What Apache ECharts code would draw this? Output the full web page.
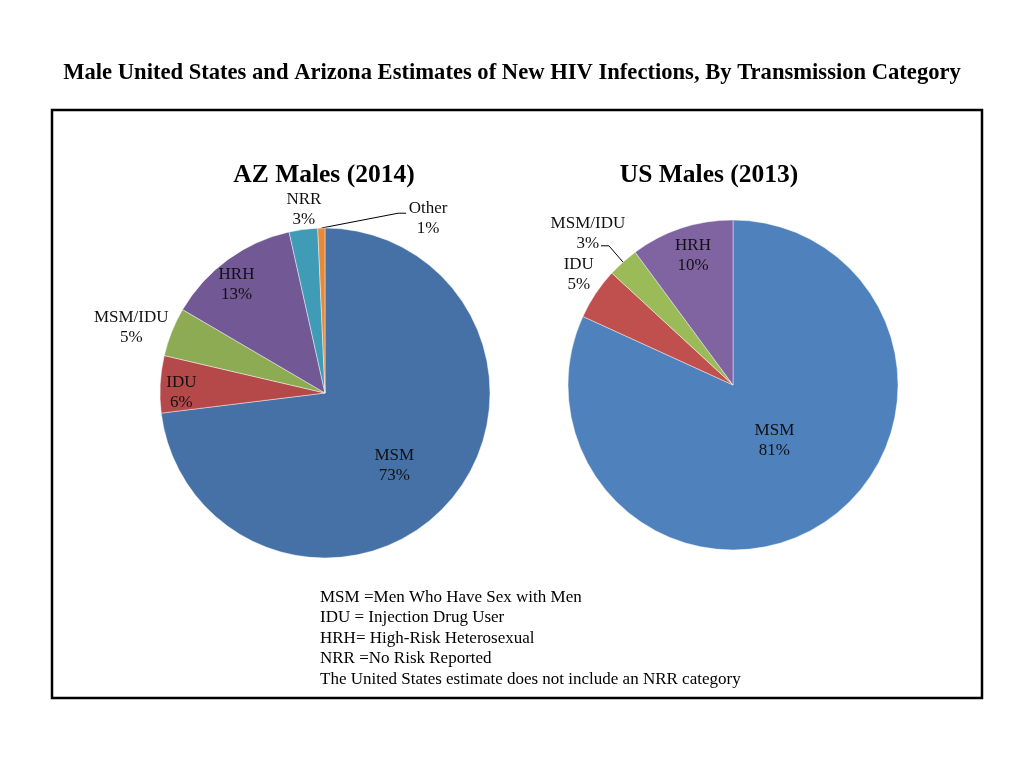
<!DOCTYPE html>
<html><head><meta charset="utf-8">
<script src="https://cdn.jsdelivr.net/npm/echarts@6/dist/echarts.min.js"></script>
<style>html,body{margin:0;padding:0;background:#fff}#c{width:1024px;height:768px}</style>
</head><body><div id="c"></div>
<script>
// ---- data ----
const azCategories = ['MSM', 'IDU', 'MSM/IDU', 'HRH', 'NRR', 'Other'];
const azValues = [73.2, 5.6, 4.8, 13.1, 2.8, 0.7];
const usCategories = ['MSM', 'IDU', 'MSM/IDU', 'HRH'];
const usValues = [81, 5, 3, 10];
const chartTitle = 'Male United States and Arizona Estimates of New HIV Infections, By Transmission Category';
const azTitle = 'AZ Males (2014)';
const usTitle = 'US Males (2013)';
const noteLines = [
  'MSM =Men Who Have Sex with Men',
  'IDU = Injection Drug User',
  'HRH= High-Risk Heterosexual',
  'NRR =No Risk Reported',
  'The United States estimate does not include an NRR category'
];

// ---- styles / layout ----
const azColors = ['#4571A7', '#B5494A', '#8DAB53', '#725894', '#409CB6', '#E5893C'];
const usColors = ['#4F81BD', '#C0504D', '#9BBB59', '#8064A2'];
const azGeo = {cx: 325, cy: 393, r: 165};
const usGeo = {cx: 733, cy: 385, r: 165};
// [radius fraction, angle shift (deg), leader attach dx, dy relative to label centre, elbow side]
const azLabelLayout = [[0.61, 5], [0.87, -3], [1.24, -3], [0.85, -3], [1.12, 1], [1.23, 31.8, -22, -5, -1]];
const usLabelLayout = [[0.42, -4], [1.15, 2], [1.27, -2, 13, 12, 1], [0.82, 1]];
const serif = '"Liberation Serif", "Times New Roman", serif';

function makeLayout(values, geo, lay) {
  const total = values.reduce((a, b) => a + b, 0);
  const starts = [];
  let acc = 0;
  values.forEach(v => { starts.push(acc); acc += v; });
  return function (params) {
    const i = params.dataIndex;
    const mid = (starts[i] + values[i] / 2) / total * 360;
    const L = lay[i];
    const a = (mid + L[1]) * Math.PI / 180;
    const x = geo.cx + L[0] * geo.r * Math.sin(a);
    const y = geo.cy - L[0] * geo.r * Math.cos(a);
    const res = {x: x, y: y, align: 'center', verticalAlign: 'middle'};
    if (L.length > 2) {
      const am = mid * Math.PI / 180;
      const edge = [geo.cx + geo.r * Math.sin(am), geo.cy - geo.r * Math.cos(am)];
      const end = [x + L[2], y + L[3]];
      const elbow = [end[0] + L[4] * 8, end[1]];
      res.labelLinePoints = [edge, elbow, end];
    }
    return res;
  };
}

function pieSeries(cats, vals, colors, geo, lay) {
  return {
    type: 'pie',
    center: [geo.cx, geo.cy],
    radius: geo.r,
    startAngle: 90,
    clockwise: true,
    animation: false,
    silent: true,
    emphasis: {disabled: true},
    itemStyle: {borderColor: 'rgba(255,255,255,0.55)', borderWidth: 0.8},
    label: {
      show: true,
      position: 'inside',
      fontFamily: serif,
      fontSize: 17,
      lineHeight: 20,
      color: '#111',
      formatter: p => p.name + '\n' + Math.round(p.value) + '%'
    },
    labelLine: {show: false},
    labelLayout: makeLayout(vals, geo, lay),
    data: cats.map((c, i) => {
      const d = {name: c, value: vals[i], itemStyle: {color: colors[i]}};
      if (lay[i].length > 2) {
        d.label = {position: 'outside'};
        d.labelLine = {show: true, lineStyle: {color: '#000', width: 1}};
      }
      return d;
    })
  };
}

const chart = echarts.init(document.getElementById('c'));
chart.setOption({
  backgroundColor: '#fff',
  animation: false,
  title: [
    {text: chartTitle, left: 507, top: 57, textAlign: 'center',
     textStyle: {fontFamily: serif, fontWeight: 'bold', fontSize: 22.6, color: '#000'}},
    {text: azTitle, left: 319, top: 157, textAlign: 'center',
     textStyle: {fontFamily: serif, fontWeight: 'bold', fontSize: 25.5, color: '#000'}},
    {text: usTitle, left: 704, top: 157, textAlign: 'center',
     textStyle: {fontFamily: serif, fontWeight: 'bold', fontSize: 25.5, color: '#000'}}
  ],
  graphic: [
    {type: 'rect', shape: {x: 52, y: 110, width: 930, height: 588},
     style: {fill: 'none', stroke: '#000', lineWidth: 2.5}, silent: true},
    {type: 'text', left: 320, top: 587,
     style: {text: noteLines.join('\n'), font: '17px ' + serif, lineHeight: 20.5, fill: '#000'}}
  ],
  series: [
    pieSeries(azCategories, azValues, azColors, azGeo, azLabelLayout),
    pieSeries(usCategories, usValues, usColors, usGeo, usLabelLayout)
  ]
});
</script>
</body></html>
